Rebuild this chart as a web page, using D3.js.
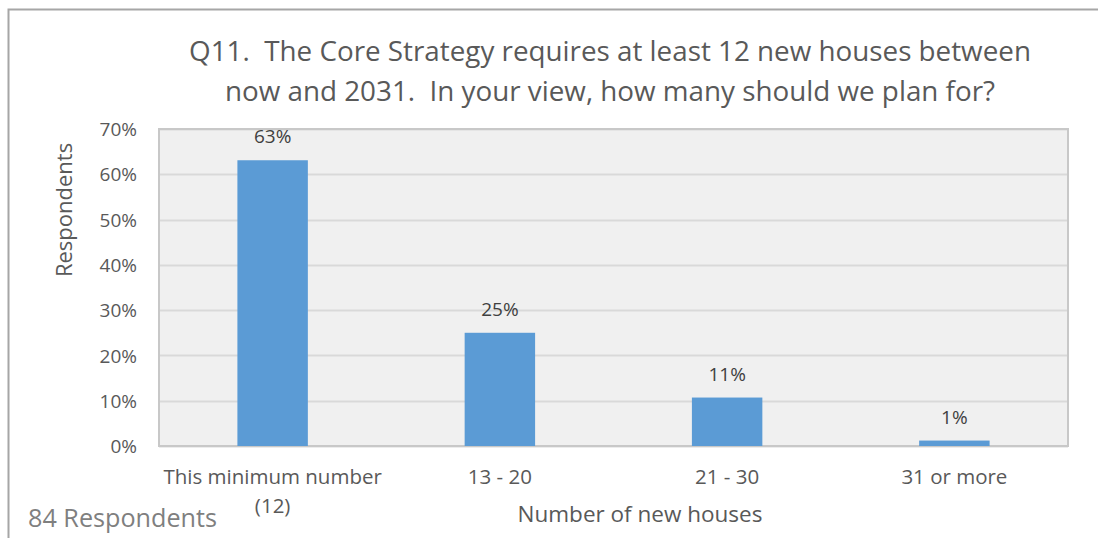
<!DOCTYPE html>
<html>
<head>
<meta charset="utf-8">
<script src="https://cdn.jsdelivr.net/npm/d3@7"></script>
<style>
  body { margin: 0; background: #fff; }
  text { font-family: "Open Sans", "Noto Sans", sans-serif; fill: #595959; }
</style>
</head>
<body>
<svg id="chart"></svg>
<script>
// Data
const categories = ['This minimum number (12)', '13 - 20', '21 - 30', '31 or more'];
const values = [63.1, 25.0, 10.7, 1.2];
const yTicks = [0, 10, 20, 30, 40, 50, 60, 70];

const svgWidth = 1098;
const svgHeight = 538;
const margin = { top: 129, right: 30, bottom: 92, left: 159 };
const width = svgWidth - margin.left - margin.right;
const height = svgHeight - margin.top - margin.bottom;

const svg = d3.select('#chart')
    .attr('width', svgWidth)
    .attr('height', svgHeight);

// outer frame
svg.append('path')
    .attr('d', `M8.5,${svgHeight} V9.5 H${svgWidth}`)
    .attr('fill', 'none')
    .attr('stroke', '#a6a6a6')
    .attr('stroke-width', 2);

const g = svg.append('g')
    .attr('transform', `translate(${margin.left},${margin.top})`);

const x = d3.scaleBand()
    .domain(categories)
    .range([0, width])
    .paddingInner(0.69)
    .paddingOuter(0.345);

const y = d3.scaleLinear()
    .domain([0, 70])
    .range([height, 0]);

// plot background
g.append('rect')
    .attr('width', width)
    .attr('height', height)
    .attr('fill', '#f0f0f0');

// gridlines
g.selectAll('.grid')
    .data(yTicks)
    .enter()
    .append('line')
    .attr('x1', 0)
    .attr('x2', width)
    .attr('y1', d => Math.round(y(d)) + 0.5)
    .attr('y2', d => Math.round(y(d)) + 0.5)
    .attr('stroke', '#d9d9d9')
    .attr('stroke-width', 2);

// plot border
g.append('rect')
    .attr('width', width)
    .attr('height', height)
    .attr('fill', 'none')
    .attr('stroke', '#c8c8c8')
    .attr('stroke-width', 2);

// bars
g.selectAll('.bar')
    .data(values)
    .enter()
    .append('rect')
    .attr('class', 'bar')
    .attr('x', (d, i) => x(categories[i]))
    .attr('y', d => y(d))
    .attr('width', x.bandwidth())
    .attr('height', d => height - y(d))
    .attr('fill', '#5b9bd5');

// value labels
g.selectAll('.bar-label')
    .data(values)
    .enter()
    .append('text')
    .attr('class', 'bar-label')
    .attr('x', (d, i) => x(categories[i]) + x.bandwidth() / 2)
    .attr('y', d => y(d) - 17)
    .attr('text-anchor', 'middle')
    .style('font-size', '19px')
    .style('fill', '#404040')
    .text(d => Math.round(d) + '%');

// y axis
const yAxis = g.append('g')
    .call(d3.axisLeft(y).tickValues(yTicks).tickFormat(d => d + '%').tickSize(0).tickPadding(22));
yAxis.select('.domain').remove();
yAxis.selectAll('text')
    .style('font-size', '19px')
    .style('fill', '#595959')
    .attr('dy', '0.35em');

// x axis labels (wrapped)
const xAxis = g.append('g')
    .attr('transform', `translate(0,${height})`)
    .call(d3.axisBottom(x).tickSize(0).tickPadding(22).tickFormat(''));
xAxis.select('.domain').remove();
xAxis.selectAll('.tick').each(function (d) {
    const t = d3.select(this).select('text')
        .style('font-size', '20.5px')
        .style('fill', '#595959')
        .attr('y', 38)
        .attr('dy', null);
    const lines = d === 'This minimum number (12)' ? ['This minimum number', '(12)'] : [d];
    lines.forEach((l, i) => {
        t.append('tspan').attr('x', 0).attr('dy', i === 0 ? 0 : 29).text(l);
    });
});

// title
const title = svg.append('text')
    .attr('text-anchor', 'middle')
    .attr('xml:space', 'preserve')
    .style('white-space', 'pre')
    .style('font-size', '27.8px')
    .style('fill', '#595959');
title.append('tspan').attr('x', 610).attr('y', 61)
    .text('Q11.  The Core Strategy requires at least 12 new houses between');
title.append('tspan').attr('x', 610).attr('y', 101)
    .text('now and 2031.  In your view, how many should we plan for?');

// axis titles
svg.append('text')
    .attr('transform', 'translate(72,210) rotate(-90)')
    .attr('text-anchor', 'middle')
    .style('font-size', '22px')
    .text('Respondents');

svg.append('text')
    .attr('x', 640)
    .attr('y', 522)
    .attr('text-anchor', 'middle')
    .style('font-size', '22.5px')
    .text('Number of new houses');

svg.append('text')
    .attr('x', 28)
    .attr('y', 527)
    .style('font-size', '25.2px')
    .style('fill', '#7f7f7f')
    .text('84 Respondents');
</script>
</body>
</html>
